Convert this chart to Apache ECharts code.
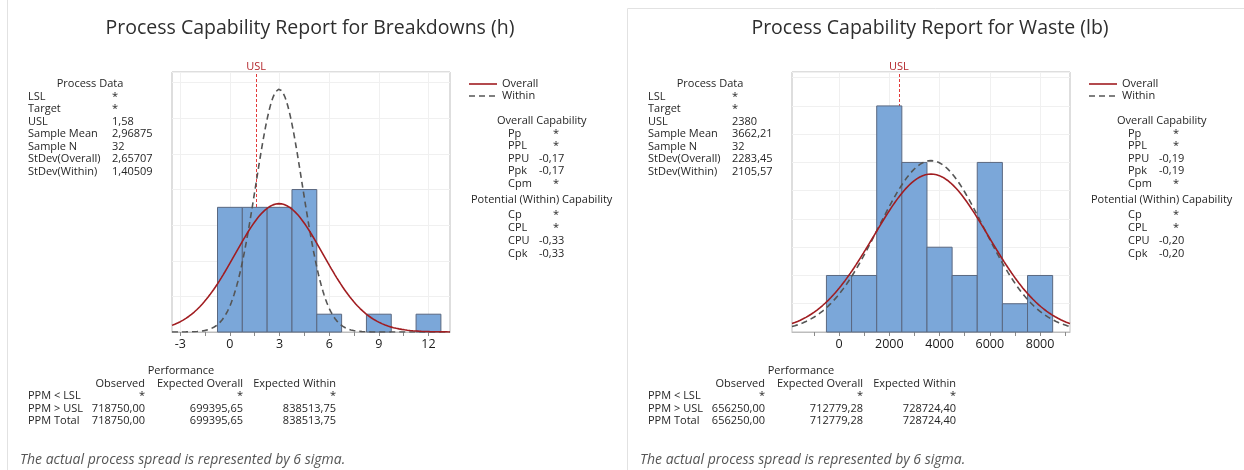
<!DOCTYPE html>
<html>
<head>
<meta charset="utf-8">
<script src="https://cdn.jsdelivr.net/npm/echarts@6/dist/echarts.min.js"></script>
<style>
  html, body { margin: 0; padding: 0; background: #fff; }
  #chart { width: 1244px; height: 470px; }
</style>
</head>
<body>
<div id="chart"></div>
<script>
// ---- Breakdowns (h) ----
const breakdownEdges = [-0.75, 0.75, 2.25, 3.75, 5.25, 6.75, 8.25, 9.75, 11.25, 12.75];
const breakdownCounts = [7, 7, 7, 8, 1, 0, 1, 0, 1];
const breakdownTickLabels = [-3, 0, 3, 6, 9, 12];
const breakdownTickMarks = [-3, -1.5, 0, 1.5, 3, 4.5, 6, 7.5, 9, 10.5, 12];
const breakdownUSL = 1.58;
const breakdownMean = 2.96875;
const breakdownN = 32;
const breakdownSdOverall = 2.65707;
const breakdownSdWithin = 1.40509;
const breakdownOverallCap = [['Pp', '*'], ['PPL', '*'], ['PPU', '-0,17'], ['Ppk', '-0,17'], ['Cpm', '*']];
const breakdownWithinCap = [['Cp', '*'], ['CPL', '*'], ['CPU', '-0,33'], ['Cpk', '-0,33']];
const breakdownPerformance = [
  ['PPM < LSL', '*', '*', '*'],
  ['PPM > USL', '718750,00', '699395,65', '838513,75'],
  ['PPM Total', '718750,00', '699395,65', '838513,75']
];

// ---- Waste (lb) ----
const wasteEdges = [-500, 500, 1500, 2500, 3500, 4500, 5500, 6500, 7500, 8500];
const wasteCounts = [2, 2, 8, 6, 3, 2, 6, 1, 2];
const wasteTickLabels = [0, 2000, 4000, 6000, 8000];
const wasteTickMarks = [-1000, 0, 1000, 2000, 3000, 4000, 5000, 6000, 7000, 8000, 9000];
const wasteUSL = 2380;
const wasteMean = 3662.21;
const wasteN = 32;
const wasteSdOverall = 2283.45;
const wasteSdWithin = 2105.57;
const wasteOverallCap = [['Pp', '*'], ['PPL', '*'], ['PPU', '-0,19'], ['Ppk', '-0,19'], ['Cpm', '*']];
const wasteWithinCap = [['Cp', '*'], ['CPL', '*'], ['CPU', '-0,20'], ['Cpk', '-0,20']];
const wastePerformance = [
  ['PPM < LSL', '*', '*', '*'],
  ['PPM > USL', '656250,00', '712779,28', '728724,40'],
  ['PPM Total', '656250,00', '712779,28', '728724,40']
];

const FONT = '"Open Sans", "Noto Sans", sans-serif';
const TXT = '#262626';
const comma = v => String(v).replace('.', ',');

const panels = [
  {
    offset: 0,
    title: 'Process Capability Report for Breakdowns (h)',
    edges: breakdownEdges, counts: breakdownCounts,
    tickLabels: breakdownTickLabels, tickMarks: breakdownTickMarks,
    usl: breakdownUSL, mean: breakdownMean, n: breakdownN,
    sdOverall: breakdownSdOverall, sdWithin: breakdownSdWithin,
    overallCap: breakdownOverallCap, withinCap: breakdownWithinCap,
    performance: breakdownPerformance,
    xMin: -3.5, xMax: 13.3, yMax: 14.6, yStep: 2
  },
  {
    offset: 620,
    title: 'Process Capability Report for Waste (lb)',
    edges: wasteEdges, counts: wasteCounts,
    tickLabels: wasteTickLabels, tickMarks: wasteTickMarks,
    usl: wasteUSL, mean: wasteMean, n: wasteN,
    sdOverall: wasteSdOverall, sdWithin: wasteSdWithin,
    overallCap: wasteOverallCap, withinCap: wasteWithinCap,
    performance: wastePerformance,
    xMin: -1870, xMax: 9190, yMax: 9.2, yStep: 1
  }
];

// fitted normal density scaled to histogram counts
function normalCurve(p, sd) {
  const binWidth = p.edges[1] - p.edges[0];
  const pts = [];
  const steps = 300;
  for (let i = 0; i <= steps; i++) {
    const x = p.xMin + (p.xMax - p.xMin) * i / steps;
    const z = (x - p.mean) / sd;
    pts.push([x, p.n * binWidth * Math.exp(-0.5 * z * z) / (sd * Math.sqrt(2 * Math.PI))]);
  }
  return pts;
}

function text(x, y, str, opts) {
  opts = opts || {};
  const align = opts.align || 'left';
  return {
    type: 'text', x: x, y: y, silent: true,
    style: {
      text: str, fill: opts.color || TXT,
      font: (opts.style || 'normal') + ' ' + (opts.weight || 'normal') + ' ' + (opts.size || 11) + 'px ' + FONT,
      align: align, textAlign: align,
      verticalAlign: 'middle', textVerticalAlign: 'middle'
    }
  };
}

// capability values: numbers start at the column, missing values sit further right
const capValueX = v => (v === '*' ? 553 : 539);

const grids = [], xAxes = [], yAxes = [], series = [], graphics = [];

panels.forEach((p, i) => {
  const o = p.offset;
  grids.push({
    left: 172 + o, top: 72, width: 278, height: 260,
    show: true, borderColor: '#bdbdbd', borderWidth: 1, backgroundColor: '#fff'
  });
  xAxes.push({
    type: 'value', gridIndex: i, min: p.xMin, max: p.xMax,
    axisLine: { show: true, lineStyle: { color: '#bdbdbd' } },
    axisTick: { show: true, customValues: p.tickMarks, length: 4, lineStyle: { color: '#8a8a8a' } },
    axisLabel: { customValues: p.tickLabels, color: '#1a1a1a', fontSize: 12.5, fontFamily: FONT, margin: 6, formatter: v => String(v) },
    splitLine: { show: false }
  });
  yAxes.push({
    type: 'value', gridIndex: i, min: 0, max: p.yMax, interval: p.yStep,
    axisLine: { show: false }, axisTick: { show: false }, axisLabel: { show: false },
    splitLine: { show: true, lineStyle: { color: '#f0f0f0', width: 1 } }
  });

  // vertical grid lines and the specification limit, kept beneath the bars
  const gridLines = p.tickLabels.map(v => ({
    xAxis: v, lineStyle: { color: '#f0f0f0', type: 'solid', width: 1 }, label: { show: false }
  }));
  series.push({
    type: 'line', xAxisIndex: i, yAxisIndex: i, data: [], z: 1, silent: true,
    markLine: {
      symbol: 'none', silent: true, animation: false, z: 1,
      data: gridLines.concat([{
        xAxis: p.usl,
        lineStyle: { color: '#e23a3a', type: [3, 2], width: 1 },
        label: { show: true, position: 'end', formatter: 'USL', color: '#b3262b', fontSize: 11, fontFamily: FONT, distance: 0 }
      }])
    }
  });

  // histogram bins
  const bins = [];
  for (let k = 0; k < p.counts.length; k++) {
    if (p.counts[k] > 0) bins.push([p.edges[k], p.edges[k + 1], p.counts[k]]);
  }
  series.push({
    type: 'custom', xAxisIndex: i, yAxisIndex: i, z: 10, silent: true,
    data: bins,
    renderItem: (params, api) => {
      const a = api.coord([api.value(0), 0]);
      const b = api.coord([api.value(1), api.value(2)]);
      return {
        type: 'rect',
        shape: { x: a[0], y: b[1], width: b[0] - a[0], height: a[1] - b[1] },
        style: { fill: '#7ba7d9', stroke: '#5a6880', lineWidth: 1 }
      };
    }
  });

  // fitted normal curves
  series.push({
    type: 'line', name: 'Within', xAxisIndex: i, yAxisIndex: i, z: 11, silent: true,
    showSymbol: false, clip: true, data: normalCurve(p, p.sdWithin),
    lineStyle: { color: '#555', width: 1.6, type: [6, 4] }
  });
  series.push({
    type: 'line', name: 'Overall', xAxisIndex: i, yAxisIndex: i, z: 12, silent: true,
    showSymbol: false, clip: true, data: normalCurve(p, p.sdOverall),
    lineStyle: { color: '#a11d21', width: 1.6 }
  });

  // title
  graphics.push(text(310 + o, 28, p.title, { align: 'center', size: 19.5, color: '#2e2e2e' }));

  // process data block
  const processData = [
    ['LSL', '*'], ['Target', '*'], ['USL', comma(p.usl)],
    ['Sample Mean', comma(p.mean)], ['Sample N', String(p.n)],
    ['StDev(Overall)', comma(p.sdOverall)], ['StDev(Within)', comma(p.sdWithin)]
  ];
  graphics.push(text(90 + o, 84, 'Process Data', { align: 'center' }));
  processData.forEach((r, k) => {
    graphics.push(text(28 + o, 96.5 + k * 12.5, r[0]));
    graphics.push(text(112 + o, 96.5 + k * 12.5, r[1]));
  });

  // legend
  graphics.push({ type: 'line', silent: true, shape: { x1: 469 + o, y1: 84, x2: 497 + o, y2: 84 }, style: { stroke: '#a11d21', lineWidth: 1.6 } });
  graphics.push({ type: 'line', silent: true, shape: { x1: 469 + o, y1: 96, x2: 497 + o, y2: 96 }, style: { stroke: '#555', lineWidth: 1.6, lineDash: [6, 4] } });
  graphics.push(text(502 + o, 84, 'Overall'));
  graphics.push(text(502 + o, 96, 'Within'));

  // capability blocks
  graphics.push(text(497 + o, 121, 'Overall Capability'));
  p.overallCap.forEach((r, k) => {
    graphics.push(text(508 + o, 133.5 + k * 12.5, r[0]));
    graphics.push(text(capValueX(r[1]) + o, 133.5 + k * 12.5, r[1]));
  });
  graphics.push(text(471 + o, 200, 'Potential (Within) Capability'));
  p.withinCap.forEach((r, k) => {
    graphics.push(text(508 + o, 214.5 + k * 13, r[0]));
    graphics.push(text(capValueX(r[1]) + o, 214.5 + k * 13, r[1]));
  });

  // performance table
  graphics.push(text(181 + o, 371, 'Performance', { align: 'center' }));
  const colRight = [145, 243, 336];
  ['Observed', 'Expected Overall', 'Expected Within'].forEach((h, c) => {
    graphics.push(text(colRight[c] + o, 383.5, h, { align: 'right' }));
  });
  p.performance.forEach((r, k) => {
    const y = 396 + k * 12.5;
    graphics.push(text(28 + o, y, r[0]));
    for (let c = 0; c < 3; c++) graphics.push(text(colRight[c] + o, y, r[c + 1], { align: 'right' }));
  });

  graphics.push(text(20 + o, 460, 'The actual process spread is represented by 6 sigma.', { style: 'italic', size: 14, color: '#555' }));
});

// panel frames
graphics.push({ type: 'line', silent: true, shape: { x1: 7.5, y1: 0, x2: 7.5, y2: 470 }, style: { stroke: '#e2e2e2', lineWidth: 1 } });
graphics.push({ type: 'polyline', silent: true, shape: { points: [[627.5, 470], [627.5, 8.5], [1244, 8.5]] }, style: { stroke: '#e2e2e2', lineWidth: 1, fill: null } });

const chart = echarts.init(document.getElementById('chart'), null, { renderer: 'canvas' });
chart.setOption({
  animation: false,
  backgroundColor: '#fff',
  grid: grids,
  xAxis: xAxes,
  yAxis: yAxes,
  series: series,
  graphic: { elements: graphics }
});
</script>
</body>
</html>
